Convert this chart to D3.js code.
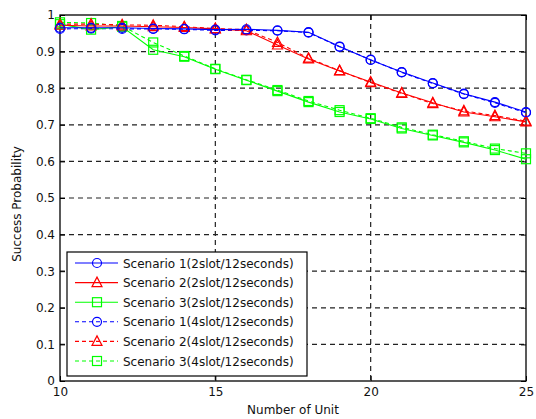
<!DOCTYPE html>
<html>
<head>
<meta charset="utf-8">
<script src="https://cdn.jsdelivr.net/npm/d3@7"></script>
<style>
  body { margin: 0; background: #fff; }
  svg text { font-family: "DejaVu Sans", Verdana, sans-serif; }
</style>
</head>
<body>
<svg id="chart" width="536" height="419"></svg>
<script>
var units = [10,11,12,13,14,15,16,17,18,19,20,21,22,23,24,25];
var s1_2 = [0.965,0.965,0.965,0.963,0.962,0.960,0.961,0.958,0.953,0.914,0.877,0.844,0.814,0.785,0.762,0.735];
var s2_2 = [0.972,0.970,0.970,0.968,0.966,0.962,0.957,0.918,0.880,0.847,0.817,0.787,0.760,0.735,0.722,0.708];
var s3_2 = [0.975,0.960,0.968,0.905,0.886,0.852,0.822,0.792,0.762,0.735,0.716,0.690,0.671,0.652,0.631,0.606];
var s1_4 = [0.962,0.963,0.962,0.962,0.961,0.958,0.958,0.957,0.952,0.913,0.878,0.843,0.813,0.784,0.760,0.733];
var s2_4 = [0.975,0.975,0.973,0.972,0.968,0.963,0.960,0.925,0.882,0.848,0.815,0.786,0.758,0.738,0.725,0.710];
var s3_4 = [0.980,0.978,0.970,0.925,0.888,0.853,0.823,0.795,0.765,0.740,0.718,0.693,0.673,0.655,0.635,0.622];
var names = ['Scenario 1(2slot/12seconds)','Scenario 2(2slot/12seconds)','Scenario 3(2slot/12seconds)',
             'Scenario 1(4slot/12seconds)','Scenario 2(4slot/12seconds)','Scenario 3(4slot/12seconds)'];
var xTicks = [10,15,20,25];
var yTicks = [0,0.1,0.2,0.3,0.4,0.5,0.6,0.7,0.8,0.9,1];

var series = [
  {name: names[0], values: s1_2, color: '#0000ff', marker: 'circle', dash: null},
  {name: names[1], values: s2_2, color: '#ff0000', marker: 'triangle', dash: null},
  {name: names[2], values: s3_2, color: '#00ff00', marker: 'square', dash: null},
  {name: names[3], values: s1_4, color: '#0000ff', marker: 'circle', dash: '4,3'},
  {name: names[4], values: s2_4, color: '#ff0000', marker: 'triangle', dash: '4,3'},
  {name: names[5], values: s3_4, color: '#00ff00', marker: 'square', dash: '4,3'}
];

var svg = d3.select('#chart');
var L = 60, R = 526, T = 15, B = 381;

var x = d3.scaleLinear().domain([10,25]).range([L,R]);
var y = d3.scaleLinear().domain([0,1]).range([B,T]);

// grid
var grid = svg.append('g').attr('class','grid');
grid.selectAll('.gy').data(yTicks.filter(function(d){ return d>0 && d<1; }))
  .enter().append('line')
  .attr('x1',L).attr('x2',R)
  .attr('y1',function(d){ return y(d); }).attr('y2',function(d){ return y(d); })
  .attr('stroke','#222').attr('stroke-dasharray','5,4').attr('stroke-width',1.2);
grid.selectAll('.gx').data(xTicks.filter(function(d){ return d>10 && d<25; }))
  .enter().append('line')
  .attr('y1',T).attr('y2',B)
  .attr('x1',function(d){ return x(d); }).attr('x2',function(d){ return x(d); })
  .attr('stroke','#222').attr('stroke-dasharray','5,4').attr('stroke-width',1.2);

// axes
var axisB = d3.axisBottom(x).tickValues(xTicks).tickSize(-5).tickPadding(6).tickFormat(d3.format('d'));
var axisL = d3.axisLeft(y).tickValues(yTicks).tickSize(-5).tickPadding(5)
  .tickFormat(function(d){ return d===0 ? '0' : d===1 ? '1' : d3.format('.1f')(d); });
var axisT = d3.axisTop(x).tickValues(xTicks).tickSize(-5).tickFormat('');
var axisR = d3.axisRight(y).tickValues(yTicks).tickSize(-5).tickFormat('');

function styleAxis(g){
  g.select('.domain').remove();
  g.selectAll('line').attr('stroke','#000');
  g.selectAll('text').attr('font-size',12).attr('fill','#111');
}
svg.append('g').attr('transform','translate(0,'+B+')').call(axisB).call(styleAxis);
svg.append('g').attr('transform','translate('+L+',0)').call(axisL).call(styleAxis);
svg.append('g').attr('transform','translate(0,'+T+')').call(axisT).call(styleAxis);
svg.append('g').attr('transform','translate('+R+',0)').call(axisR).call(styleAxis);

svg.append('rect').attr('x',L).attr('y',T).attr('width',R-L).attr('height',B-T)
  .attr('fill','none').attr('stroke','#000').attr('stroke-width',1.3);

function drawMarker(g, type, cx, cy, color){
  if(type==='circle'){
    g.append('circle').attr('cx',cx).attr('cy',cy).attr('r',4.5)
      .attr('fill','none').attr('stroke',color).attr('stroke-width',1.2);
  } else if(type==='triangle'){
    g.append('path').attr('d','M'+cx+','+(cy-5.5)+'L'+(cx+5)+','+(cy+4)+'L'+(cx-5)+','+(cy+4)+'Z')
      .attr('fill','none').attr('stroke',color).attr('stroke-width',1.2);
  } else {
    g.append('rect').attr('x',cx-4.5).attr('y',cy-4.5).attr('width',9).attr('height',9)
      .attr('fill','none').attr('stroke',color).attr('stroke-width',1.2);
  }
}

var line = d3.line().x(function(d,i){ return x(units[i]); }).y(function(d){ return y(d); });

var plot = svg.append('g').attr('class','plot');
series.slice().reverse().forEach(function(s){
  var g = plot.append('g');
  g.append('path').datum(s.values).attr('d',line)
    .attr('fill','none').attr('stroke',s.color).attr('stroke-width',1.1)
    .attr('stroke-dasharray',s.dash);
  s.values.forEach(function(v,i){ drawMarker(g, s.marker, x(units[i]), y(v), s.color); });
});

// legend
var lg = svg.append('g').attr('class','legend');
lg.append('rect').attr('x',67).attr('y',252).attr('width',240).attr('height',124)
  .attr('fill','#fff').attr('stroke','#000').attr('stroke-width',1.2);
series.forEach(function(s,i){
  var ly = 263 + i*19.6;
  lg.append('line').attr('x1',75).attr('x2',118).attr('y1',ly).attr('y2',ly)
    .attr('stroke',s.color).attr('stroke-width',1.1).attr('stroke-dasharray',s.dash);
  drawMarker(lg, s.marker, 97, ly, s.color);
  lg.append('text').attr('x',123).attr('y',ly+4.5).attr('font-size',12).attr('fill','#111').text(s.name);
});

// labels
svg.append('text').attr('x',(L+R)/2).attr('y',414).attr('text-anchor','middle')
  .attr('font-size',12).attr('fill','#111').text('Number of Unit');
svg.append('text').attr('transform','translate(21,'+((T+B)/2+6)+') rotate(-90)')
  .attr('text-anchor','middle').attr('font-size',12).attr('fill','#111').text('Success Probability');
</script>
</body>
</html>
